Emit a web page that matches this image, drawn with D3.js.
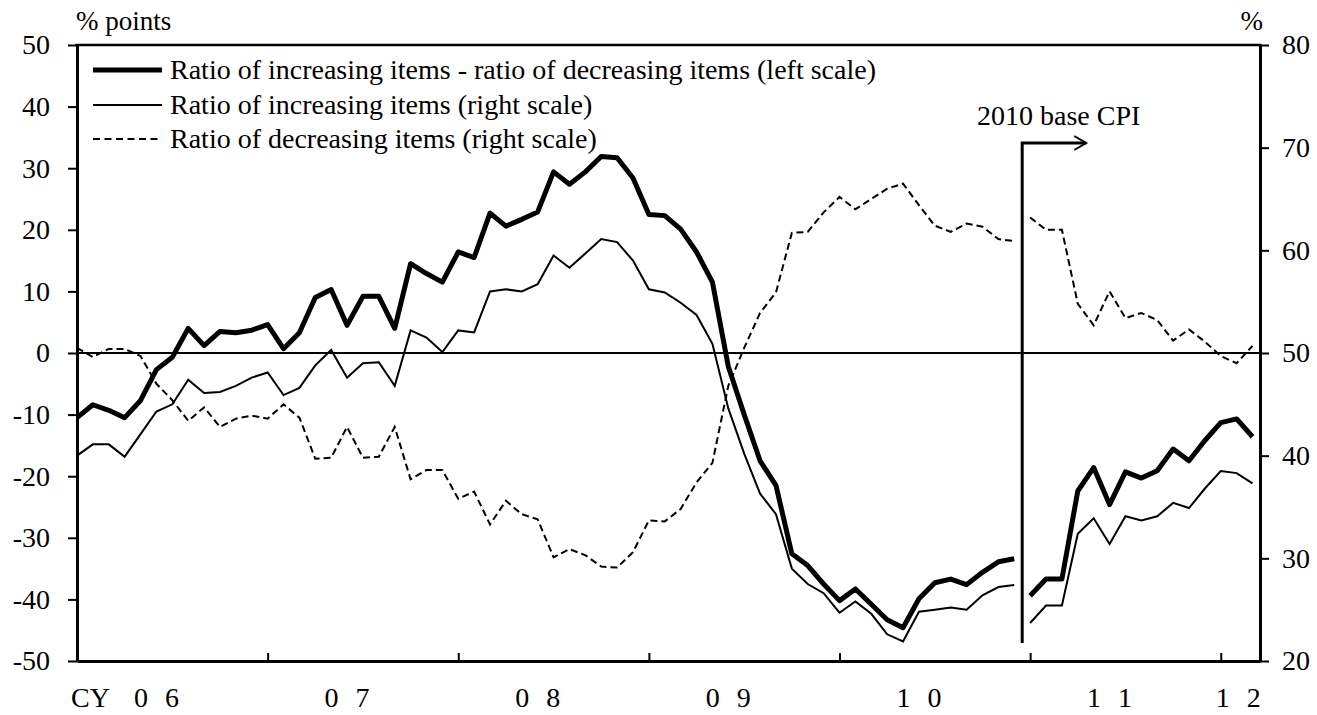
<!DOCTYPE html>
<html>
<head>
<meta charset="utf-8">
<script src="https://cdn.jsdelivr.net/npm/d3@7"></script>
<style>
  body { margin: 0; background: #fff; }
  svg text { font-family: "Liberation Serif", "Times New Roman", serif; fill: #000; }
</style>
</head>
<body>
<svg id="chart"></svg>
<script>
// Canvas size
const width = 1317, height = 715;

// Months are indexed from Jan 2006 (0) to Mar 2012 (74); the base changes at Jan 2011 (60)
const breakIndex = 60;

// Ratio of increasing items - ratio of decreasing items (left scale, % points)
const diffValues = [
  -10.5, -8.4, -9.3, -10.5, -7.7, -2.7, -0.7, 4.0, 1.2, 3.5, 3.3, 3.7,
  4.6, 0.7, 3.3, 9.0, 10.3, 4.5, 9.2, 9.2, 4.0, 14.5, 12.9, 11.5,
  16.4, 15.5, 22.7, 20.6, 21.7, 22.9, 29.4, 27.4, 29.4, 31.9, 31.7, 28.4,
  22.5, 22.3, 20.1, 16.4, 11.5, -2.2, -10.0, -17.5, -21.5, -32.6, -34.5, -37.5,
  -40.2, -38.3, -40.8, -43.3, -44.6, -39.9, -37.3, -36.7, -37.6, -35.6, -33.9, -33.4,
  -39.4, -36.7, -36.7, -22.4, -18.6, -24.6, -19.3, -20.3, -19.1, -15.6, -17.5, -14.2,
  -11.3, -10.7, -13.6
];

// Ratio of increasing items (right scale, %)
const incValues = [
  40.0, 41.1, 41.1, 39.9, 42.1, 44.3, 45.0, 47.4, 46.1, 46.2, 46.8, 47.6,
  48.1, 45.9, 46.6, 48.8, 50.3, 47.6, 49.0, 49.1, 46.8, 52.2, 51.5, 50.1,
  52.2, 52.0, 56.0, 56.2, 56.0, 56.7, 59.5, 58.3, 59.7, 61.1, 60.8, 59.0,
  56.2, 55.9, 54.9, 53.7, 50.9, 44.6, 40.2, 36.3, 34.3, 29.0, 27.5, 26.6,
  24.7, 25.8, 24.6, 22.6, 21.9, 24.8, 25.0, 25.2, 25.0, 26.4, 27.2, 27.4,
  23.7, 25.4, 25.4, 32.4, 33.9, 31.4, 34.1, 33.7, 34.1, 35.4, 34.9, 36.8,
  38.5, 38.3, 37.3
];

// Ratio of decreasing items (right scale, %)
const decValues = [
  50.5, 49.6, 50.4, 50.4, 49.7, 47.0, 45.4, 43.4, 44.7, 42.8, 43.6, 43.9,
  43.6, 45.0, 43.7, 39.7, 39.8, 42.8, 39.8, 39.9, 42.8, 37.7, 38.6, 38.6,
  35.8, 36.5, 33.3, 35.6, 34.3, 33.8, 30.1, 30.9, 30.3, 29.2, 29.1, 30.6,
  33.7, 33.6, 34.8, 37.4, 39.3, 46.8, 50.5, 53.9, 55.9, 61.7, 61.8, 63.7,
  65.2, 64.0, 65.0, 66.0, 66.5, 64.4, 62.4, 61.8, 62.6, 62.3, 61.1, 60.9,
  63.2, 62.0, 62.0, 54.8, 52.7, 56.0, 53.4, 53.9, 53.2, 51.2, 52.3, 51.1,
  49.7, 49.0, 50.7
];

// Tick values and labels
const leftTicks = [-50, -40, -30, -20, -10, 0, 10, 20, 30, 40, 50];
const rightTicks = [20, 30, 40, 50, 60, 70, 80];
const yearTicks = [0, 12, 24, 36, 48, 60, 72];      // January of each year
const yearLabels = ["0 6", "0 7", "0 8", "0 9", "1 0", "1 1", "1 2"];
const yearLabelPos = [5, 17, 29, 41, 53, 65, 73.1];  // where each label sits
const legendLabels = [
  "Ratio of increasing items - ratio of decreasing items (left scale)",
  "Ratio of increasing items (right scale)",
  "Ratio of decreasing items (right scale)"
];

const fontSize = 28;

const svg = d3.select("#chart").attr("width", width).attr("height", height);

// Scales
const x = d3.scaleLinear().domain([0, 74.47]).range([77, 1260]);
const yL = d3.scaleLinear().domain([-50, 50]).range([661, 45]);
const yR = d3.scaleLinear().domain([20, 80]).range([661, 45]);

// Split a series into the two base periods
function segments(values) {
  const pts = values.map((v, i) => ({ i, v }));
  return [pts.slice(0, breakIndex), pts.slice(breakIndex)];
}

// Zero line
svg.append("line")
  .attr("x1", x(0)).attr("x2", x.range()[1])
  .attr("y1", yL(0)).attr("y2", yL(0))
  .attr("stroke", "#000").attr("stroke-width", 2);

// Series lines
const lineL = d3.line().x(d => x(d.i)).y(d => yL(d.v));
const lineR = d3.line().x(d => x(d.i)).y(d => yR(d.v));

segments(decValues).forEach(seg => {
  svg.append("path").attr("d", lineR(seg))
    .attr("fill", "none").attr("stroke", "#000").attr("stroke-width", 2)
    .attr("stroke-dasharray", "7,4");
});
segments(incValues).forEach(seg => {
  svg.append("path").attr("d", lineR(seg))
    .attr("fill", "none").attr("stroke", "#000").attr("stroke-width", 2);
});
segments(diffValues).forEach(seg => {
  svg.append("path").attr("d", lineL(seg))
    .attr("fill", "none").attr("stroke", "#000").attr("stroke-width", 5)
    .attr("stroke-linejoin", "round");
});

// Left axis
const leftAxis = svg.append("g")
  .attr("transform", `translate(${x(0)},0)`)
  .call(d3.axisLeft(yL).tickValues(leftTicks).tickSize(9).tickSizeOuter(0)
    .tickPadding(18).tickFormat(d => String(d)));

// Right axis
const rightAxis = svg.append("g")
  .attr("transform", `translate(${x.range()[1]},0)`)
  .call(d3.axisRight(yR).tickValues(rightTicks).tickSize(9).tickSizeOuter(0)
    .tickPadding(13).tickFormat(d => String(d)));

// Bottom axis with inward year ticks
const bottomAxis = svg.append("g")
  .attr("transform", `translate(0,${yL(-50)})`)
  .call(d3.axisBottom(x).tickValues(yearTicks).tickSize(-8).tickSizeOuter(0).tickFormat(""));

[leftAxis, rightAxis, bottomAxis].forEach(g => {
  g.select(".domain").attr("stroke-width", 3);
  g.selectAll(".tick line").attr("stroke-width", 2);
  g.selectAll(".tick text").attr("font-size", fontSize)
    .attr("font-family", "Liberation Serif").attr("fill", "#000");
});

// Top border of the plot
svg.append("line")
  .attr("x1", x(0) - 1.5).attr("x2", x.range()[1] + 1.5)
  .attr("y1", yL(50)).attr("y2", yL(50))
  .attr("stroke", "#000").attr("stroke-width", 2.5);

// Year labels (kept just inside the bottom edge)
const labelY = 707;
svg.append("text").attr("x", 110).attr("y", labelY)
  .attr("text-anchor", "end").attr("font-size", fontSize).text("CY");
svg.selectAll(".year-label")
  .data(yearLabels)
  .enter().append("text")
  .attr("class", "year-label")
  .attr("x", (d, k) => x(yearLabelPos[k]) + 2.5)
  .attr("y", labelY)
  .attr("text-anchor", "middle")
  .attr("font-size", fontSize)
  .attr("letter-spacing", 5)
  .text(d => d);

// Unit labels
svg.append("text").attr("x", 76).attr("y", 30).attr("font-size", 27).text("% points");
svg.append("text").attr("x", 1263).attr("y", 30).attr("font-size", 27)
  .attr("text-anchor", "end").text("%");

// Legend
const legendRows = [
  { y: 70, width: 5, dash: null },
  { y: 105, width: 2, dash: null },
  { y: 139, width: 2, dash: "7,4.5" }
];
legendRows.forEach((r, k) => {
  svg.append("line")
    .attr("x1", 93).attr("x2", 162).attr("y1", r.y).attr("y2", r.y)
    .attr("stroke", "#000").attr("stroke-width", r.width)
    .attr("stroke-dasharray", r.dash);
  svg.append("text")
    .attr("x", 170).attr("y", r.y + 9)
    .attr("font-size", fontSize)
    .text(legendLabels[k]);
});

// Base change marker: vertical line with arrow to the right
const bx = (x(breakIndex - 1) + x(breakIndex)) / 2;
svg.append("path")
  .attr("d", `M${bx},643 V143 H${bx + 64}`)
  .attr("fill", "none").attr("stroke", "#000").attr("stroke-width", 3);
svg.append("path")
  .attr("d", `M${bx + 52},136 L${bx + 64},143 L${bx + 52},150`)
  .attr("fill", "none").attr("stroke", "#000").attr("stroke-width", 2);
svg.append("text").attr("x", 977).attr("y", 125).attr("font-size", fontSize).text("2010 base CPI");
</script>
</body>
</html>
